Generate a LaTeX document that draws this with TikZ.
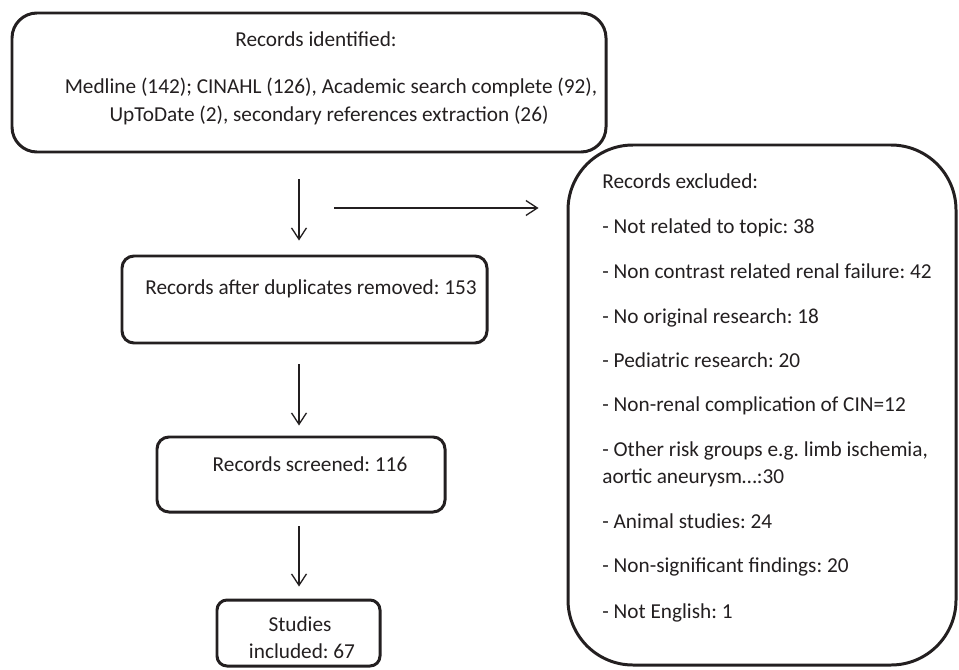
\documentclass[tikz,border=0pt]{standalone}
\usepackage{fontspec}
\setmainfont{Carlito}
\usepackage{xcolor}
\usepackage{tikz}
\usetikzlibrary{arrows.meta,fit}
\definecolor{inkDark}{HTML}{231F20}
\frenchspacing

\begin{document}
\begin{tikzpicture}[x=0.02cm,y=-0.02cm]

            \tikzset{
                box/.style={
                    draw=inkDark,
                    line width=1.7pt,
                    rounded corners=#1,
                    inner sep=0pt
                },
                box/.default=0.24cm,
                txt/.style={
                    font=\fontsize{12.1}{15.4}\selectfont,
                    text=inkDark,
                    inner sep=0pt,
                    anchor=base
                },
                item/.style={txt, anchor=base west},
                flow/.style={
                    draw=inkDark,
                    line width=0.75pt,
                    -{Straight Barb[length=6.5pt,width=8.5pt]}
                }
            }

            \useasboundingbox (0,0) rectangle (959,669);

            % boxes
            \node[box=0.5cm, fit={(12,13) (606,152)}] (srcbox) {};
            \node[box, fit={(122,256) (487,343)}] (dupbox) {};
            \node[box, fit={(157,437) (445,512)}] (scrbox) {};
            \node[box=0.2cm, fit={(217,600) (380,666)}] (incbox) {};
            \node[box=1.3cm, fit={(568,145) (956,665)}] (exclbox) {};

            % texts
            \node[txt] (srchead) at (316,47) {Records identified:};
            \node[txt] (srcline1) at (331,93) {Medline (142); CINAHL (126), Academic search complete (92),};
            \node[txt] (srcline2) at (329,121) {UpToDate (2), secondary references extraction (26)};
            \node[txt] (duptxt) at (311,294) {Records after duplicates removed: 153};
            \node[txt] (scrtxt) at (310,471) {Records screened: 116};
            \node[txt] (inctxt1) at (300,631) {Studies};
            \node[txt] (inctxt2) at (302,658) {included: 67};

            \node[item] (exhead) at (602,188) {Records excluded:};
            \node[item] (ex1) at (602,233) {- Not related to topic: 38};
            \node[item] (ex2) at (602,278) {- Non contrast related renal failure: 42};
            \node[item] (ex3) at (602,323) {- No original research: 18};
            \node[item] (ex4) at (602,367) {- Pediatric research: 20};
            \node[item] (ex5) at (602,411) {- Non-renal complication of CIN=12};
            \node[item] (ex6a) at (602,456) {- Other risk groups e.g. limb ischemia,};
            \node[item] (ex6b) at (602,483) {aortic aneurysm…:30};
            \node[item] (ex7) at (602,528) {- Animal studies: 24};
            \node[item] (ex8) at (602,572) {- Non-significant findings: 20};
            \node[item] (ex9) at (602,618) {- Not English: 1};

            % arrows
            \coordinate (axis) at (299,0);
            \coordinate (exstart) at (334,208);
            \draw[flow, shorten <=0.52cm, shorten >=0.28cm] (srcbox.south -| axis) -- (dupbox.north -| axis);
            \draw[flow, shorten <=0.4cm, shorten >=0.2cm] (dupbox.south -| axis) -- (scrbox.north -| axis);
            \draw[flow, shorten <=0.26cm, shorten >=0.24cm] (scrbox.south -| axis) -- (incbox.north -| axis);
            \draw[flow, shorten >=0.56cm] (exstart) -- (exclbox.west |- exstart);

\end{tikzpicture}
\end{document}
